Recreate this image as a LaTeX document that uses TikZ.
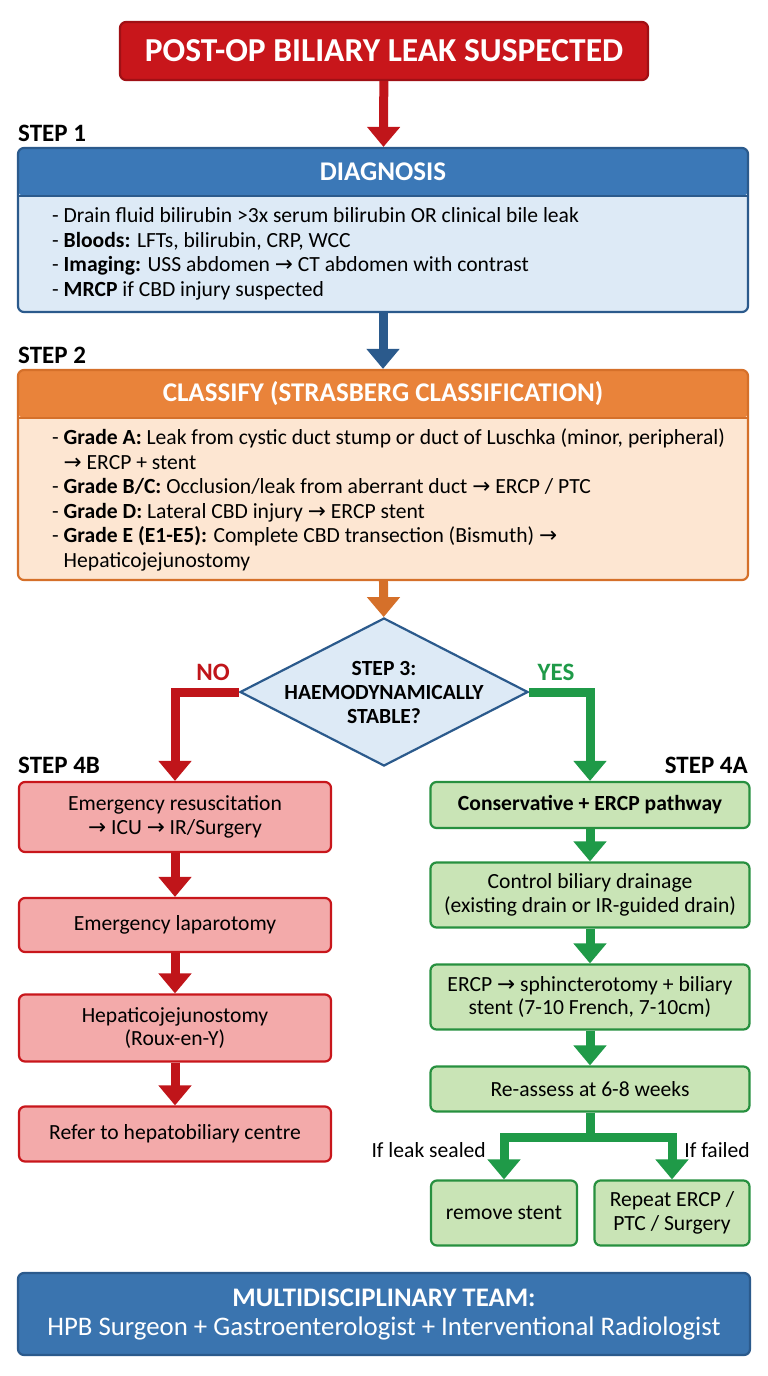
\documentclass[tikz,border=0pt]{standalone}
\usepackage{fontspec}
\setmainfont{Carlito}
\newfontfamily\arrowfont{DejaVu Sans}[Scale=1.0]
\newcommand{\rarr}{{\arrowfont →}}
\usetikzlibrary{arrows.meta, shapes.geometric, calc}

\definecolor{titlered}{HTML}{C8161B}
\definecolor{darkred}{HTML}{A01015}
\definecolor{redarrow}{HTML}{C0151A}
\definecolor{redbody}{HTML}{F3AAAA}
\definecolor{bluehead}{HTML}{3B78B7}
\definecolor{blueline}{HTML}{2B5A8C}
\definecolor{bluebody}{HTML}{DDEAF6}
\definecolor{orangehead}{HTML}{E9833A}
\definecolor{orangeline}{HTML}{D5702A}
\definecolor{orangebody}{HTML}{FDE6D2}
\definecolor{greenline}{HTML}{27903F}
\definecolor{greenarrow}{HTML}{1F9A48}
\definecolor{greenbody}{HTML}{C9E4B6}
\definecolor{teamblue}{HTML}{3A74AF}

\begin{document}
\begin{tikzpicture}[x=1pt, y=-1pt,
    box/.style={draw, line width=2.2pt, rounded corners=6pt, align=center, inner sep=4pt},
    panel/.style={box, minimum width=730pt, minimum height=#1},
    headed/.style n args={3}{draw=#1, fill=#2,
        path picture={
            \fill[#3] (path picture bounding box.north west)
                rectangle ([yshift=-48pt]path picture bounding box.north east);
            \draw[#1, line width=1.5pt] ([yshift=-48pt]path picture bounding box.north west)
                -- ([yshift=-48pt]path picture bounding box.north east);}},
    redbox/.style={box, draw=titlered, fill=redbody, minimum width=312pt,
        font=\fontsize{21.6}{23.5}\selectfont},
    greenbox/.style={box, draw=greenline, fill=greenbody, minimum width=319pt,
        font=\fontsize{21.6}{23.5}\selectfont},
    arr/.style={line width=9pt, -{Triangle[width=32pt,length=20pt]}},
    head/.style={text=white, font=\bfseries\fontsize{27}{30}\selectfont},
    body/.style={inner sep=0pt, anchor=west, align=left, font=\fontsize{21.6}{24.5}\selectfont},
    lab/.style={font=\bfseries\fontsize{25}{28}\selectfont, inner sep=0pt}
    ]

    \useasboundingbox (0,0) rectangle (768,1376);

    % Title
    \node[box, draw=darkred, fill=titlered, text=white, minimum width=528pt, minimum height=58pt,
          font=\bfseries\fontsize{33.5}{36}\selectfont] (title) at (384,51) {POST-OP BILIARY LEAK SUSPECTED};

    % Step 1
    \node[lab, anchor=west] (step1) at (18,133) {STEP 1};
    \node[panel=164pt, headed={blueline}{bluebody}{bluehead}] (diag) at (383,230) {};
    \node[head] (diaghead) at ($(diag.north)+(0,25)$) {DIAGNOSIS};
    \node[body] (diagbody) at (52,254) {%
        - Drain fluid bilirubin >3x serum bilirubin OR clinical bile leak\\
        - \textbf{Bloods:} LFTs, bilirubin, CRP, WCC\\
        - \textbf{Imaging:} USS abdomen \rarr{} CT abdomen with contrast\\
        - \textbf{MRCP} if CBD injury suspected};

    % Step 2
    \node[lab, anchor=west] (step2) at (18,355) {STEP 2};
    \node[panel=210pt, headed={orangeline}{orangebody}{orangehead}] (classify) at (383,475) {};
    \node[head] (classhead) at ($(classify.north)+(0,25)$) {CLASSIFY (STRASBERG CLASSIFICATION)};
    \node[body] (classbody) at (52,500) {%
        - \textbf{Grade A:} Leak from cystic duct stump or duct of Luschka (minor, peripheral)\\
        \phantom{- }\rarr{} ERCP + stent\\
        - \textbf{Grade B/C:} Occlusion/leak from aberrant duct \rarr{} ERCP / PTC\\
        - \textbf{Grade D:} Lateral CBD injury \rarr{} ERCP stent\\
        - \textbf{Grade E (E1-E5):} Complete CBD transection (Bismuth) \rarr\\
        \phantom{- }Hepaticojejunostomy};

    % Step 3 decision
    \node[diamond, draw=blueline, fill=bluebody, line width=2.2pt, inner sep=0pt,
          minimum width=288pt, minimum height=148pt] (stable) at (384,692) {};
    \node[lab, align=center, font=\bfseries\fontsize{21.6}{24}\selectfont] (stabletxt) at (stable.center)
        {STEP 3:\\HAEMODYNAMICALLY\\STABLE?};
    \node[lab, text=redarrow] (no) at (213,672) {NO};
    \node[lab, text=greenarrow] (yes) at (556,672) {YES};

    % Step 4B
    \node[lab, anchor=west] (step4b) at (18,765) {STEP 4B};
    \node[redbox, minimum height=70pt] (b1) at (175,817) {Emergency resuscitation\\\rarr{} ICU \rarr{} IR/Surgery};
    \node[redbox, minimum height=54pt] (b2) at (175,925) {Emergency laparotomy};
    \node[redbox, minimum height=67pt] (b3) at (175,1028) {Hepaticojejunostomy\\(Roux-en-Y)};
    \node[redbox, minimum height=55pt] (b4) at (175,1134) {Refer to hepatobiliary centre};

    % Step 4A
    \node[lab, anchor=east] (step4a) at (748,765) {STEP 4A};
    \node[greenbox, minimum height=46pt, font=\bfseries\fontsize{21.6}{23.5}\selectfont] (a1) at (590,805) {Conservative + ERCP pathway};
    \node[greenbox, minimum height=65pt] (a2) at (590,895) {Control biliary drainage\\(existing drain or IR-guided drain)};
    \node[greenbox, minimum height=65pt] (a3) at (590,997) {ERCP \rarr{} sphincterotomy + biliary\\stent (7-10 French, 7-10cm)};
    \node[greenbox, minimum height=45pt] (a4) at (590,1089) {Re-assess at 6-8 weeks};
    \node[greenbox, minimum width=146pt, minimum height=65pt] (a5) at (504,1213) {remove stent};
    \node[greenbox, minimum width=155pt, minimum height=65pt] (a6) at (672,1213) {Repeat ERCP /\\PTC / Surgery};
    \coordinate (fork) at (590,1137);
    \node[font=\fontsize{21.6}{24}\selectfont, anchor=east, inner sep=0pt] (sealed) at (486,1150) {If leak sealed};
    \node[font=\fontsize{21.6}{24}\selectfont, anchor=east, inner sep=0pt] (failed) at (750,1150) {If failed};

    % Team
    \node[box, draw=blueline, fill=teamblue, text=white, minimum width=732pt, minimum height=82pt,
          font=\fontsize{26.8}{29}\selectfont] (team) at (384,1314)
        {\textbf{MULTIDISCIPLINARY TEAM:}\\HPB Surgeon + Gastroenterologist + Interventional Radiologist};

    % Connectors
    \draw[arr, redarrow] (title) -- (diag);
    \draw[arr, blueline] (diag) -- (classify);
    \draw[arr, orangeline] (classify) -- (stable);
    \draw[arr, redarrow] (stable.west) -| (b1.north);
    \draw[arr, greenarrow] (stable.east) -| (a1.north);
    \draw[arr, redarrow] (b1) -- (b2);
    \draw[arr, redarrow] (b2) -- (b3);
    \draw[arr, redarrow] (b3) -- (b4);
    \draw[arr, greenarrow] (a1) -- (a2);
    \draw[arr, greenarrow] (a2) -- (a3);
    \draw[arr, greenarrow] (a3) -- (a4);
    \draw[line width=9pt, greenarrow] (a4.south) -- (fork);
    \draw[arr, greenarrow] ([xshift=4.5pt]fork) -| (a5.north);
    \draw[arr, greenarrow] ([xshift=-4.5pt]fork) -| (a6.north);

\end{tikzpicture}
\end{document}
